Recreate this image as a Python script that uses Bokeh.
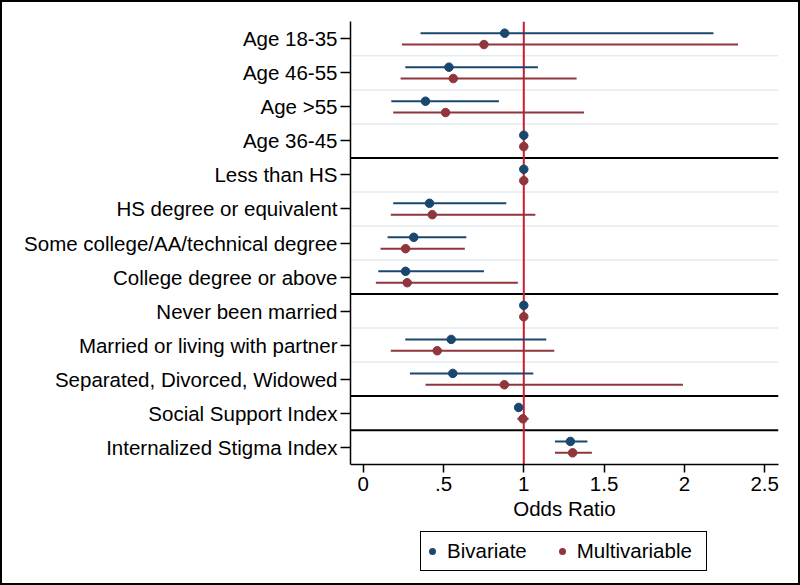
from bokeh.plotting import figure
from bokeh.models import Range1d, FixedTicker, Span, ColumnDataSource, Div
from bokeh.layouts import column
from bokeh.embed import file_html
from bokeh.resources import INLINE

# ---------------- data ----------------
categories = [
    "Age 18-35", "Age 46-55", "Age >55", "Age 36-45",
    "Less than HS", "HS degree or equivalent",
    "Some college/AA/technical degree", "College degree or above",
    "Never been married", "Married or living with partner",
    "Separated, Divorced, Widowed",
    "Social Support Index", "Internalized Stigma Index",
]
groups = ["Age"] * 4 + ["Education"] * 4 + ["Marital"] * 3 + ["Support", "Stigma"]

biv_or = [0.881, 0.534, 0.388, 1.0, 1.0, 0.413, 0.315, 0.264, 1.0, 0.548, 0.558, 0.968, 1.290]
biv_lo = [0.357, 0.262, 0.175, 1.0, 1.0, 0.187, 0.152, 0.094, 1.0, 0.262, 0.291, 0.955, 1.194]
biv_hi = [2.181, 1.088, 0.845, 1.0, 1.0, 0.891, 0.642, 0.752, 1.0, 1.140, 1.059, 0.982, 1.396]

mul_or = [0.752, 0.561, 0.513, 1.0, 1.0, 0.430, 0.264, 0.274, 1.0, 0.461, 0.879, 0.995, 1.304]
mul_lo = [0.241, 0.233, 0.187, 1.0, 1.0, 0.172, 0.108, 0.079, 1.0, 0.172, 0.388, 0.960, 1.194]
mul_hi = [2.334, 1.329, 1.375, 1.0, 1.0, 1.072, 0.633, 0.963, 1.0, 1.190, 1.991, 1.030, 1.424]

series_names = ["Bivariate", "Multivariable"]

x_ticks = [0, 0.5, 1, 1.5, 2, 2.5]
x_tick_labels = ["0", ".5", "1", "1.5", "2", "2.5"]
reference_value = 1

# ---------------- style ----------------
NAVY = "#1a476f"
MAROON = "#90353b"
series_colors = [NAVY, MAROON]
REDLINE = "#cc1c2e"
GRID = "#e3edf0"
FONT = "Liberation Sans"
FS = "20.5px"
OFF = 0.167

n = len(categories)
idx = list(range(n))

src_b = ColumnDataSource(dict(y=[i - OFF for i in idx], x=biv_or, lo=biv_lo, hi=biv_hi))
src_m = ColumnDataSource(dict(y=[i + OFF for i in idx], x=mul_or, lo=mul_lo, hi=mul_hi))

p = figure(frame_width=428, frame_height=443, output_backend="svg", toolbar_location=None,
           x_range=Range1d(-0.079, 2.586), y_range=Range1d(n - 0.49, -0.51),
           min_border_left=348, min_border_right=20, min_border_top=19,
           min_border_bottom=64)
p.background_fill_color = "white"
p.border_fill_color = "white"
p.outline_line_color = None
p.grid.visible = False

# separators / gridlines between categories
for i in range(n - 1):
    if groups[i] != groups[i + 1]:
        p.add_layout(Span(location=i + 0.5, dimension="width", line_color="black",
                          line_width=2, level="underlay"))
    else:
        p.add_layout(Span(location=i + 0.5, dimension="width", line_color=GRID,
                          line_width=1.5, level="underlay"))

p.add_layout(Span(location=reference_value, dimension="height", line_color=REDLINE,
                  line_width=2, level="underlay"))

p.segment(x0="lo", y0="y", x1="hi", y1="y", source=src_b, line_color=NAVY, line_width=2)
p.segment(x0="lo", y0="y", x1="hi", y1="y", source=src_m, line_color=MAROON, line_width=2)
p.scatter(x="x", y="y", source=src_b, size=8.5, fill_color=NAVY, line_color=NAVY)
p.scatter(x="x", y="y", source=src_m, size=8.5, fill_color=MAROON, line_color=MAROON)

# y axis
ya = p.yaxis[0]
ya.ticker = FixedTicker(ticks=idx)
ya.major_label_overrides = {i: c for i, c in zip(idx, categories)}
ya.major_label_text_font = FONT
ya.major_label_text_font_size = FS
ya.major_label_text_color = "black"
ya.axis_line_color = "black"
ya.axis_line_width = 1.5
ya.major_tick_out = 10
ya.major_tick_in = 0
ya.major_tick_line_color = "black"
ya.major_tick_line_width = 1.5
ya.minor_tick_out = 0
ya.minor_tick_in = 0
ya.major_label_standoff = 3

# x axis
xa = p.xaxis[0]
xa.ticker = FixedTicker(ticks=x_ticks)
xa.major_label_overrides = {t: l for t, l in zip(x_ticks, x_tick_labels)}
xa.major_label_text_font = FONT
xa.major_label_text_font_size = FS
xa.major_label_text_color = "black"
xa.axis_label = "Odds Ratio"
xa.axis_label_text_font = FONT
xa.axis_label_text_font_size = FS
xa.axis_label_text_font_style = "normal"
xa.axis_label_text_color = "black"
xa.axis_label_standoff = 3
xa.axis_line_color = "black"
xa.axis_line_width = 1.5
xa.major_tick_out = 8
xa.major_tick_in = 0
xa.major_tick_line_color = "black"
xa.major_tick_line_width = 1.5
xa.minor_tick_out = 0
xa.minor_tick_in = 0
xa.major_label_standoff = 4

# legend (HTML box below the plot, centred under the plot region)
items_html = ""
for k, (name, col) in enumerate(zip(series_names, series_colors)):
    ml = 8 if k == 0 else 32
    items_html += (f'<span style="display:inline-block;width:7px;height:7px;border-radius:50%;'
                   f'background:{col};margin-left:{ml}px;margin-right:11px;"></span>'
                   f'<span style="white-space:nowrap;">{name}</span>')
legend_html = (
    '<div style="position:relative;width:796px;height:55px;background:white;">'
    '<div style="position:absolute;left:418px;top:3px;width:287px;height:40px;'
    'box-sizing:border-box;border:1.5px solid black;display:flex;align-items:center;'
    f'font-family:\'{FONT}\';font-size:{FS};color:black;line-height:1;">'
    f'{items_html}</div></div>'
)
legend_div = Div(text=legend_html, width=796, height=55, margin=0)

layout = column(p, legend_div, spacing=0)
layout.styles = {"border": "2px solid black", "background": "white"}

open("out.html", "w").write(file_html(layout, INLINE))
